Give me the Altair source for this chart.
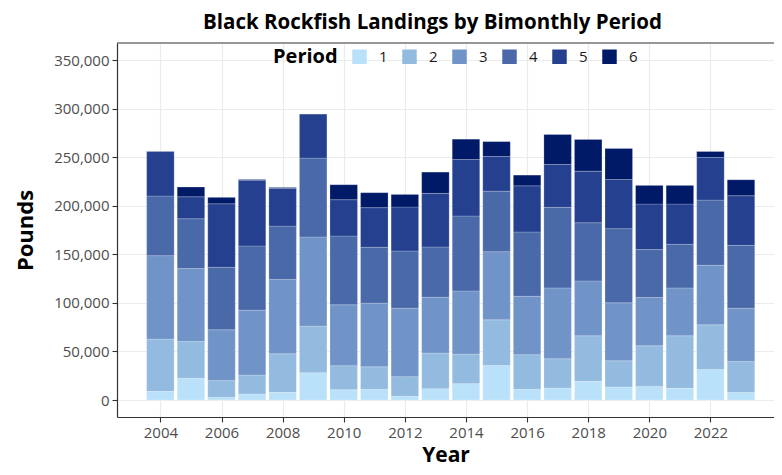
import altair as alt
import pandas as pd

years = list(range(2004, 2024))
periods = ["1", "2", "3", "4", "5", "6"]

p1 = [8.9, 22.3, 2.7, 6.2, 7.9, 28.1, 10.6, 11.0, 3.8, 11.6, 16.8, 35.6, 11.0, 12.3, 19.2, 13.4, 14.0, 12.0, 31.5, 7.9]
p2 = [53.8, 38.0, 17.5, 19.5, 39.7, 47.9, 24.7, 23.2, 20.2, 36.7, 30.5, 46.9, 35.6, 30.2, 46.9, 27.0, 41.8, 54.1, 45.9, 31.8]
p3 = [85.9, 75.0, 52.1, 66.8, 76.4, 91.8, 62.7, 65.5, 70.5, 57.5, 65.0, 70.2, 60.2, 72.9, 56.5, 59.6, 49.7, 49.3, 61.3, 54.8]
p4 = [61.4, 51.3, 64.3, 66.1, 55.0, 81.2, 70.8, 57.5, 58.9, 51.7, 77.1, 62.3, 66.2, 82.9, 59.9, 76.4, 49.3, 44.9, 67.1, 64.7]
p5 = [46.0, 22.6, 65.4, 67.4, 38.8, 45.5, 37.4, 40.8, 45.2, 55.2, 58.2, 35.7, 47.5, 44.2, 53.1, 50.6, 46.9, 41.4, 43.9, 51.1]
p6 = [0.0, 10.0, 6.6, 1.0, 1.0, 0.0, 15.4, 15.4, 13.0, 21.9, 20.9, 15.3, 11.0, 30.8, 32.6, 31.9, 19.2, 19.2, 6.1, 16.4]

colors = ["#BAE1FA", "#93BBE0", "#7094C7", "#4A69A9", "#24408E", "#011A68"]
x_ticks = list(range(2004, 2023, 2))
y_ticks = list(range(0, 350001, 50000))

rows = []
for per, vals in zip(periods, [p1, p2, p3, p4, p5, p6]):
    for yr, v in zip(years, vals):
        rows.append({"Year": yr, "Period": per, "Pounds": v * 1000})
df = pd.DataFrame(rows)

W = 657
H = 374
FONT = "Open Sans"

bars = alt.Chart(df).transform_stack(
    stack="Pounds", groupby=["Year"], as_=["y0", "y1"],
    sort=[alt.SortField("Period", order="ascending")]
).transform_calculate(
    xa="datum.Year - 0.45", xb="datum.Year + 0.45"
).mark_bar(stroke="white", strokeWidth=0.4, strokeOpacity=0.5).encode(
    x=alt.X("xa:Q", scale=alt.Scale(domain=[2002.58, 2024.08], nice=False, zero=False),
            axis=alt.Axis(values=x_ticks, format="d", title="Year")),
    x2="xb:Q",
    y=alt.Y("y0:Q", scale=alt.Scale(domain=[-17500, 367500], nice=False, zero=False),
            axis=alt.Axis(values=y_ticks, format=",d", title="Pounds")),
    y2="y1:Q",
    color=alt.Color("Period:N", scale=alt.Scale(domain=periods, range=colors),
                    legend=alt.Legend(title="Period", orient="none", direction="horizontal",
                                      legendX=156, legendY=6, titleOrient="left",
                                      symbolType="square", symbolSize=210,
                                      symbolStrokeWidth=0, labelOffset=12,
                                      columnPadding=14, titlePadding=14,
                                      titleFontSize=20, titleFont=FONT, titleFontWeight="bold",
                                      titleColor="black", labelFontSize=15, labelFont=FONT,
                                      labelColor="#1a1a1a", titleBaseline="middle")),
    order=alt.Order("Period:N", sort="ascending"),
)

top_border = alt.Chart(pd.DataFrame({"a": [0]})).mark_rule(color="#333333", strokeWidth=1.2).encode(
    x=alt.value(0), x2=alt.value(W), y=alt.value(0)
)

chart = alt.layer(bars, top_border).properties(
    width=W, height=H,
    title=alt.TitleParams("Black Rockfish Landings by Bimonthly Period", font=FONT,
                          fontSize=20.5, fontWeight="bold", color="black", anchor="middle",
                          offset=9, dx=-13),
    autosize=alt.AutoSizeParams(type="none"),
    padding={"left": 109, "top": 35, "right": 0, "bottom": 50},
).configure_view(stroke=None).configure_axis(
    labelFont=FONT, labelFontSize=15, labelColor="#4D4D4D",
    titleFont=FONT, titleFontSize=22, titleFontWeight="bold", titleColor="black",
    gridColor="#EBEBEB", gridWidth=1.2, domainColor="#333333", domainWidth=1.2,
    tickColor="#333333", tickWidth=1.1, tickSize=5, labelPadding=3,
).configure_axisX(titlePadding=4, labelPadding=3, titleFontSize=21).configure_axisY(titlePadding=16)

chart.save("out.html", embed_options={"renderer": "svg", "actions": False})
